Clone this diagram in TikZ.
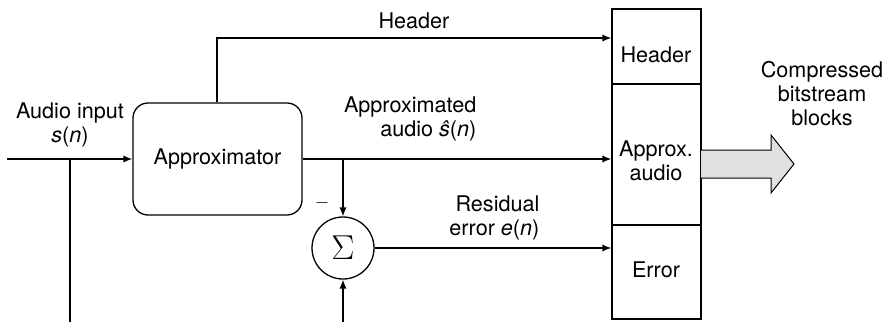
\documentclass[tikz,border=0pt]{standalone}
\usepackage{fontspec}
\setmainfont{TeX Gyre Heros}
\usetikzlibrary{arrows.meta}
\tikzset{
  arr/.style={-{Latex[length=4.5pt,width=3.6pt]}},
  lbl/.style={inner sep=0pt, font=\fontsize{10.8}{12}\selectfont},
  cell/.style={draw, minimum width=44.5pt, inner sep=0pt},
}
\begin{document}
\begin{tikzpicture}[x=0.5pt,y=-0.5pt, line width=0.65pt]
\useasboundingbox (0,0) rectangle (891,322);
% approximator
\node[draw, rounded corners=7.5pt, minimum width=84.5pt, minimum height=56pt, inner sep=0pt,
      font=\fontsize{10.8}{12}\selectfont] (appr) at (217.5,159) {Approximator};
% sigma
\node[draw, circle, minimum size=31pt, inner sep=0pt] (sig) at (343,248) {\fontsize{16}{16}\selectfont$\Sigma$};
% column cells
\node[cell, minimum height=37.5pt] (hdr) at (656.5,46.5) {};
\node[cell, minimum height=70.5pt] (apx) at (656.5,154.5) {};
\node[cell, minimum height=47pt] (err) at (656.5,272) {};
\node[lbl] (thdr) at (656,55) {Header};
\node[lbl, align=center] (tapx) at (656,161) {Approx.\\audio};
\node[lbl] (terr) at (656,270) {Error};
% coordinates
\coordinate (in) at (7,159);
\coordinate (bx) at (70,159);
\coordinate (bbot) at (70,322);
\coordinate (hx) at (217,0);
\coordinate (hy) at (0,38);
\coordinate (sx) at (343,159);
\coordinate (sbot) at (343,322);
\coordinate (ey) at (0,248);
% connectors
\draw[arr] (in) -- (appr.west);
\draw (bx) -- (bbot);
\draw[arr] (hx |- appr.north) |- (hdr.west |- hy);
\draw[arr] (appr.east) -- (apx.west |- appr.east);
\draw[arr] (sx) -- (sig.north);
\draw[arr] (sbot) -- (sig.south);
\draw[arr] (sig.east) -- (err.west |- sig.east);
% big arrow
\draw[fill=black!12, line width=0.5pt] (701,150) -- (771,150) -- (771,135) -- (794,164) -- (771,193) -- (771,178) -- (701,178);
% labels
\node[lbl] (lhdr) at (414,21) {Header};
\node[lbl, align=center] (lin) at (70,125) {Audio input\\\textit{s}(\textit{n})};
\node[lbl, align=right, anchor=east] (lapx) at (477,119) {Approximated\\audio \textit{ŝ}(\textit{n})};
\node[lbl, align=right, anchor=east] (lres) at (540,218) {Residual\\error \textit{e}(\textit{n})};
\node[lbl, align=center] (lout) at (822,94) {Compressed\\bitstream\\blocks};
\node[lbl] (lminus) at (322,203) {\fontsize{9}{9}\selectfont$-$};
\end{tikzpicture}
\end{document}
